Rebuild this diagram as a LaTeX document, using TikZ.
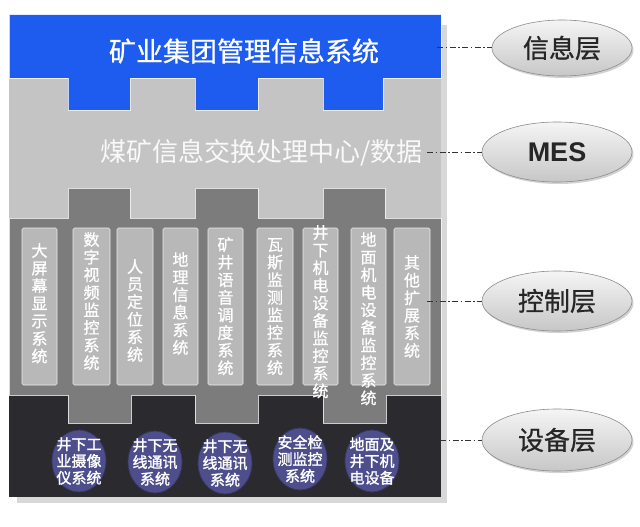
\documentclass[tikz,border=0pt]{standalone}
\usepackage{fontspec}
\newfontfamily\cjk{Noto Sans CJK SC}
\newfontfamily\cjkm{Noto Sans CJK SC}[FakeBold=0.8]
\newfontfamily\cjkb{Noto Sans CJK SC}[FakeBold=1.6]
\newfontfamily\arialb{Liberation Sans}
\usetikzlibrary{shapes.geometric,shadows}
\definecolor{infoblue}{HTML}{1E5CF0}
\definecolor{mesgray}{HTML}{C4C4C4}
\definecolor{ctlgray}{HTML}{7C7C7C}
\definecolor{boxgray}{HTML}{B8B8B8}
\definecolor{devdark}{HTML}{2B2A2E}
\definecolor{devell}{HTML}{4E4E8C}
\definecolor{shadowgray}{HTML}{D8D8D8}
\definecolor{linkgray}{HTML}{333333}
\tikzset{
  edgeline/.style={draw=white, draw opacity=0.75, line width=0.9pt},
  ctlbox/.style={draw=white!85!gray, fill=boxgray, rounded corners=1.5pt, line width=0.6pt},
  ctltext/.style={text=white, align=center, inner sep=0pt, anchor=north,
    font={\cjkm\fontsize{16pt}{17.6pt}\selectfont}},
  devellipse/.style={ellipse, fill=devell, draw=devell!70!black, line width=0.8pt,
    minimum width=54pt, minimum height=62pt, inner sep=0pt},
  devtext/.style={text=white, align=center, inner sep=0pt,
    font={\cjkb\fontsize{15pt}{16.8pt}\selectfont}},
  layerell/.style={ellipse, top color=white!92!gray, bottom color=black!22, draw=black!45,
    line width=0.6pt, minimum width=150pt, minimum height=60pt, inner sep=0pt,
    drop shadow={shadow xshift=1.5pt, shadow yshift=-2pt, fill=black!35}},
  layertext/.style={text=black!85, font={\cjkm\fontsize{26pt}{28pt}\selectfont}},
  link/.style={draw=linkgray, line width=1pt, dash pattern=on 6pt off 2.5pt on 1.5pt off 2.5pt},
}
\begin{document}
\begin{tikzpicture}[x=1pt,y=-1pt]
\useasboundingbox (0,0) rectangle (640,527);
\fill[white] (0,0) rectangle (640,527);
% shadow of the panel
\fill[shadowgray] (17,25) rectangle (447,503);
% MES band
\fill[mesgray] (9,78) rectangle (441,218);
% device layer
\fill[devdark] (9,395) rectangle (441,497);
% control layer with teeth
\filldraw[fill=ctlgray, edgeline]
  (9,218) -- (68,218) -- (68,188) -- (130,188) -- (130,218) -- (195,218) -- (195,188)
  -- (258,188) -- (258,218) -- (323,218) -- (323,188) -- (385,188) -- (385,218)
  -- (441,218) -- (441,395) -- (386,395) -- (386,423) -- (323,423) -- (323,395)
  -- (258,395) -- (258,423) -- (195,423) -- (195,395) -- (131,395) -- (131,423)
  -- (68,423) -- (68,395) -- (9,395) -- cycle;
% information layer with teeth
\filldraw[fill=infoblue, edgeline]
  (9,15) -- (441,15) -- (441,78) -- (383,78) -- (383,110) -- (323,110) -- (323,78)
  -- (258,78) -- (258,110) -- (195,110) -- (195,78) -- (130,78) -- (130,110)
  -- (68,110) -- (68,78) -- (9,78) -- cycle;
\fill[infoblue] (9.5,15.5) rectangle (440.5,77.5);

\node[text=white, font={\cjkm\fontsize{27pt}{29pt}\selectfont}, inner sep=0pt] (infotitle) at (244,51) {矿业集团管理信息系统};
\node[text=white!95!gray, font={\cjk\fontsize{26pt}{28pt}\selectfont}, inner sep=0pt, anchor=west] (mestitle) at (100,153) {煤矿信息交换处理中心/数据};

% control boxes
\foreach \xa/\xb/\nm in {22/57/b1,73/110/b2,117/153/b3,163/198/b4,208/243/b5,257/293/b6,303/338/b7,351/386/b8,394/430/b9}{
  \node[ctlbox, minimum width={(\xb-\xa)*1pt}, minimum height=157pt, inner sep=0pt] (\nm) at ({(\xa+\xb)/2},306.5) {};
}
\node[ctltext] (t1) at (b1.center |- 0,243) {大\\屏\\幕\\显\\示\\系\\统};
\node[ctltext] (t2) at (b2.center |- 0,232) {数\\字\\视\\频\\监\\控\\系\\统};
\node[ctltext] (t3) at (b3.center |- 0,259) {人\\员\\定\\位\\系\\统};
\node[ctltext] (t4) at (b4.center |- 0,252) {地\\理\\信\\息\\系\\统};
\node[ctltext] (t5) at (b5.center |- 0,237) {矿\\井\\语\\音\\调\\度\\系\\统};
\node[ctltext] (t6) at (b6.center |- 0,238) {瓦\\斯\\监\\测\\监\\控\\系\\统};
\node[ctltext] (t7) at (b7.center |- 0,225) {井\\下\\机\\电\\设\\备\\监\\控\\系\\统};
\node[ctltext] (t8) at (b8.center |- 0,232) {地\\面\\机\\电\\设\\备\\监\\控\\系\\统};
\node[ctltext] (t9) at (b9.center |- 0,255) {其\\他\\扩\\展\\系\\统};

% device ellipses
\node[devellipse] (d1) at (79,461) {};
\node[devellipse] (d2) at (155,462) {};
\node[devellipse] (d3) at (225,463) {};
\node[devellipse] (d4) at (300,459) {};
\node[devellipse] (d5) at (372,461) {};
\node[devtext] (dt1) at (d1) {井下工\\业摄像\\仪系统};
\node[devtext] (dt2) at (d2) {井下无\\线通讯\\系统};
\node[devtext] (dt3) at (d3) {井下无\\线通讯\\系统};
\node[devtext] (dt4) at (d4) {安全检\\测监控\\系统};
\node[devtext] (dt5) at (d5) {地面及\\井下机\\电设备};

% layer labels
\node[layerell, minimum width=140pt, minimum height=56pt] (linfo) at (562,48) {};
\node[layertext] (linfot) at (linfo) {信息层};
\node[layerell] (lmes) at (557,152) {};
\node[layertext, font={\arialb\bfseries\fontsize{27pt}{29pt}\selectfont}] (lmest) at (lmes) {MES};
\node[layerell] (lctl) at (557,301) {};
\node[layertext] (lctlt) at (lctl) {控制层};
\node[layerell, minimum height=62pt] (ldev) at (557,440) {};
\node[layertext] (ldevt) at (ldev) {设备层};

% connectors
\coordinate (cinfo) at (437,48);
\coordinate (cmes) at (427,152);
\coordinate (cctl) at (427,301);
\coordinate (cdev) at (440,440);
\draw[link] (cinfo) -- (linfo.west);
\draw[link] (cmes) -- (lmes.west);
\draw[link] (cctl) -- (lctl.west);
\draw[link] (cdev) -- (ldev.west);
\end{tikzpicture}
\end{document}
